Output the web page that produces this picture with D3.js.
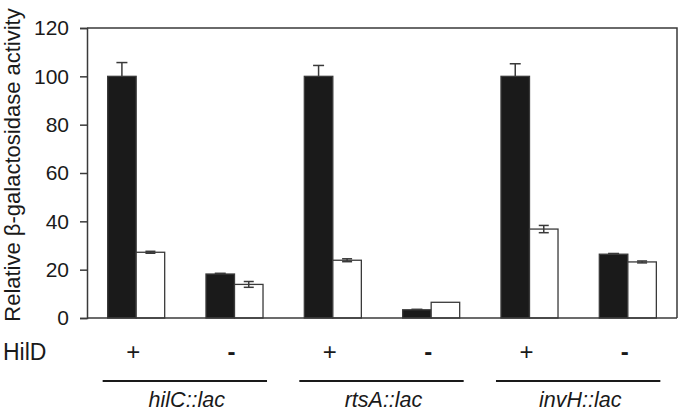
<!DOCTYPE html>
<html>
<head>
<meta charset="utf-8">
<script src="https://cdn.jsdelivr.net/npm/d3@7"></script>
<style>
  html, body { margin: 0; padding: 0; background: #fff; }
  svg { display: block; font-family: "Liberation Sans", Arial, sans-serif; }
</style>
</head>
<body>
<div id="chart"></div>
<script>
const reporters = ["hilC::lac", "rtsA::lac", "invH::lac"];
const hildStates = ["+", "-"];
const filledValues = [100, 18.2, 100, 3.4, 100, 26.4];
const filledErrors = [5.7, 0.3, 4.5, 0.2, 5.2, 0.3];
const openValues = [27.2, 13.9, 23.9, 6.5, 36.8, 23.2];
const openErrors = [0.4, 1.2, 0.6, 0, 1.5, 0.4];
const yTicks = [0, 20, 40, 60, 80, 100, 120];

const width = 680;
const height = 411;
const margin = { top: 28, right: 3, bottom: 93, left: 87 };
const ink = "#1a1a1a";
const lineColor = "#3a3a3a";

const conditions = reporters.flatMap((r) => hildStates.map((h) => ({ reporter: r, hild: h })));
conditions.forEach((c, i) => { c.id = i; });

const rows = [];
conditions.forEach((c, i) => {
  rows.push({ id: i, series: "filled", value: filledValues[i], err: filledErrors[i] });
  rows.push({ id: i, series: "open", value: openValues[i], err: openErrors[i] });
});

const svg = d3.select("#chart").append("svg")
  .attr("width", width).attr("height", height);

const x = d3.scaleBand()
  .domain(conditions.map((c) => c.id))
  .range([margin.left, width - margin.right])
  .paddingInner(0.42)
  .paddingOuter(0.21);

const xSub = d3.scaleBand()
  .domain(["filled", "open"])
  .range([0, x.bandwidth()]);

const y = d3.scaleLinear()
  .domain([0, 120])
  .range([height - margin.bottom, margin.top]);

// bars
svg.append("g").selectAll("rect")
  .data(rows)
  .join("rect")
  .attr("x", (d) => x(d.id) + xSub(d.series))
  .attr("y", (d) => y(d.value))
  .attr("width", xSub.bandwidth())
  .attr("height", (d) => y(0) - y(d.value))
  .attr("fill", (d) => (d.series === "filled" ? ink : "#fff"))
  .attr("stroke", lineColor)
  .attr("stroke-width", 1.3);

// error bars
const errG = svg.append("g")
  .attr("stroke", lineColor)
  .attr("stroke-width", 1.5);

rows.filter((d) => d.err > 0).forEach((d) => {
  const cx = x(d.id) + xSub(d.series) + xSub.bandwidth() / 2;
  const cap = d.series === "filled" ? 5.5 : 5;
  const lo = d.series === "filled" ? d.value : d.value - d.err;
  errG.append("line")
    .attr("x1", cx).attr("x2", cx)
    .attr("y1", y(lo)).attr("y2", y(d.value + d.err));
  errG.append("line")
    .attr("x1", cx - cap).attr("x2", cx + cap)
    .attr("y1", y(d.value + d.err)).attr("y2", y(d.value + d.err));
  if (d.series === "open") {
    errG.append("line")
      .attr("x1", cx - cap).attr("x2", cx + cap)
      .attr("y1", y(d.value - d.err)).attr("y2", y(d.value - d.err));
  }
});

// frame
const x0 = margin.left;
const x1 = width - margin.right;
svg.append("path")
  .attr("d", `M${x0},${y(120)}H${x1}V${y(0)}`)
  .attr("fill", "none")
  .attr("stroke", lineColor)
  .attr("stroke-width", 1.5);

svg.append("line")
  .attr("x1", x0).attr("x2", x1)
  .attr("y1", y(0)).attr("y2", y(0))
  .attr("stroke", lineColor)
  .attr("stroke-width", 1.5);

const yAxis = svg.append("g")
  .attr("transform", `translate(${x0},0)`)
  .call(d3.axisLeft(y).tickValues(yTicks).tickSize(7).tickPadding(11));
yAxis.select(".domain").attr("stroke", lineColor).attr("stroke-width", 1.5);
yAxis.selectAll("line").attr("stroke", lineColor).attr("stroke-width", 1.5);
yAxis.selectAll("text")
  .attr("font-size", 21)
  .attr("font-family", "'Liberation Sans', Arial, sans-serif")
  .attr("fill", ink);

svg.append("text")
  .attr("transform", `translate(20,${(margin.top + y(0)) / 2 - 8}) rotate(-90)`)
  .attr("text-anchor", "middle")
  .attr("font-size", 22)
  .attr("fill", ink)
  .text("Relative β-galactosidase activity");

// HilD row
svg.append("text")
  .attr("x", 3).attr("y", 360)
  .attr("font-size", 23)
  .attr("fill", ink)
  .text("HilD");

svg.append("g").selectAll("text")
  .data(conditions)
  .join("text")
  .attr("x", (d) => x(d.id) + x.bandwidth() / 2 - 3)
  .attr("y", 360)
  .attr("text-anchor", "middle")
  .attr("font-size", 24)
  .attr("font-weight", (d) => (d.hild === "-" ? "bold" : "normal"))
  .attr("fill", ink)
  .text((d) => d.hild);

// reporter brackets
const groups = reporters.map((r) => {
  const ids = conditions.filter((c) => c.reporter === r).map((c) => c.id);
  return { reporter: r, left: x(ids[0]) - 5, right: x(ids[ids.length - 1]) + x.bandwidth() + 4 };
});

svg.append("g").selectAll("line")
  .data(groups)
  .join("line")
  .attr("x1", (d) => d.left).attr("x2", (d) => d.right)
  .attr("y1", 381).attr("y2", 381)
  .attr("stroke", ink)
  .attr("stroke-width", 2);

svg.append("g").selectAll("text")
  .data(groups)
  .join("text")
  .attr("x", (d) => (d.left + d.right) / 2 + 2)
  .attr("y", 407)
  .attr("text-anchor", "middle")
  .attr("font-size", 21.5)
  .attr("font-style", "italic")
  .attr("fill", ink)
  .text((d) => d.reporter);
</script>
</body>
</html>
